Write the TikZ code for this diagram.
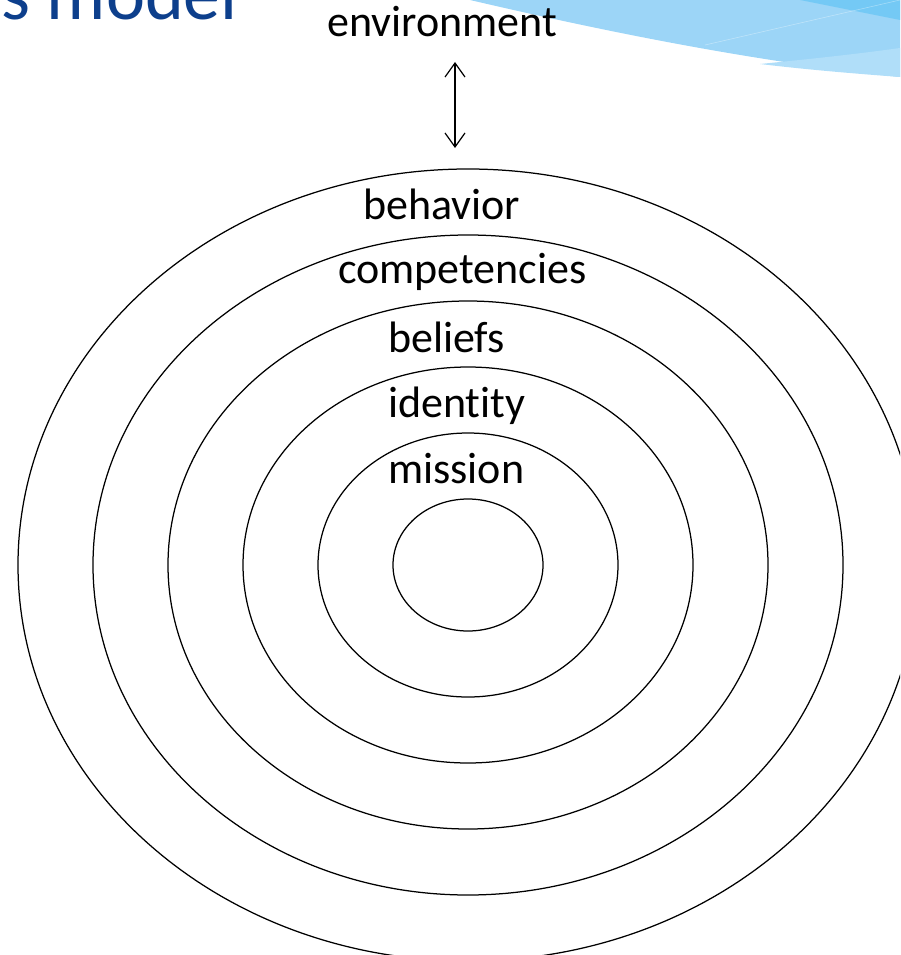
\documentclass[tikz,border=0pt]{standalone}
\usepackage{fontspec}
\setmainfont[Ligatures=NoCommon]{Carlito}
\usetikzlibrary{arrows.meta}

\definecolor{titleblue}{RGB}{13, 63, 140}
\definecolor{swooshblue}{RGB}{156, 213, 247}
\definecolor{swooshdark}{RGB}{116, 201, 245}
\definecolor{swooshpale}{RGB}{176, 222, 249}

\tikzset{
  ring/.style={line width=1.25pt},
  level/.style={font=\fontsize{44}{50}\selectfont, anchor=base west, inner sep=0pt},
  link/.style={line width=1.2pt, {Straight Barb[length=14pt,width=20pt]}-{Straight Barb[length=14pt,width=20pt]}}
}

\begin{document}
\begin{tikzpicture}[x=1pt, y=-1pt]
      \useasboundingbox (0,0) rectangle (900,955);
      \clip (0,0) rectangle (900,955);

      % Swoosh in the corner
      \fill[swooshblue] (470,0) .. controls (620,35) and (760,62) .. (900,77) -- (900,0) -- cycle;
      \fill[swooshpale] (760,64) .. controls (810,70) and (860,74) .. (900,77) -- (900,48) .. controls (850,55) and (800,60) .. (760,64) -- cycle;
      \fill[swooshdark] (800,0) .. controls (840,8) and (870,14) .. (900,20) -- (900,0) -- cycle;
      \draw[white, opacity=0.35, line width=0.6pt] (705,45) -- (900,0);

      % Title, cut by the frame
      \node[titleblue, font=\fontsize{74}{80}\selectfont, anchor=base east, inner sep=0pt] (title) at (238,20) {s model};

      % Rings
      \foreach \r in {1,...,6}
        \draw[ring] (468,565) ellipse [x radius=75*\r, y radius=66*\r];

      % Labels
      \node[level, anchor=base] (env) at (442,37) {environment};
      \node[level] (behavior) at (363,219) {behavior};
      \node[level] (competencies) at (338,283) {competencies};
      \node[level] (beliefs) at (388,352) {beliefs};
      \node[level] (identity) at (388,417) {identity};
      \node[level] (mission) at (388,483) {mission};

      % Two-way arrow
      \coordinate (envtip) at (455,62);
      \coordinate (ringtip) at (455,148);
      \draw[link] (envtip) -- (ringtip);

\end{tikzpicture}
\end{document}
